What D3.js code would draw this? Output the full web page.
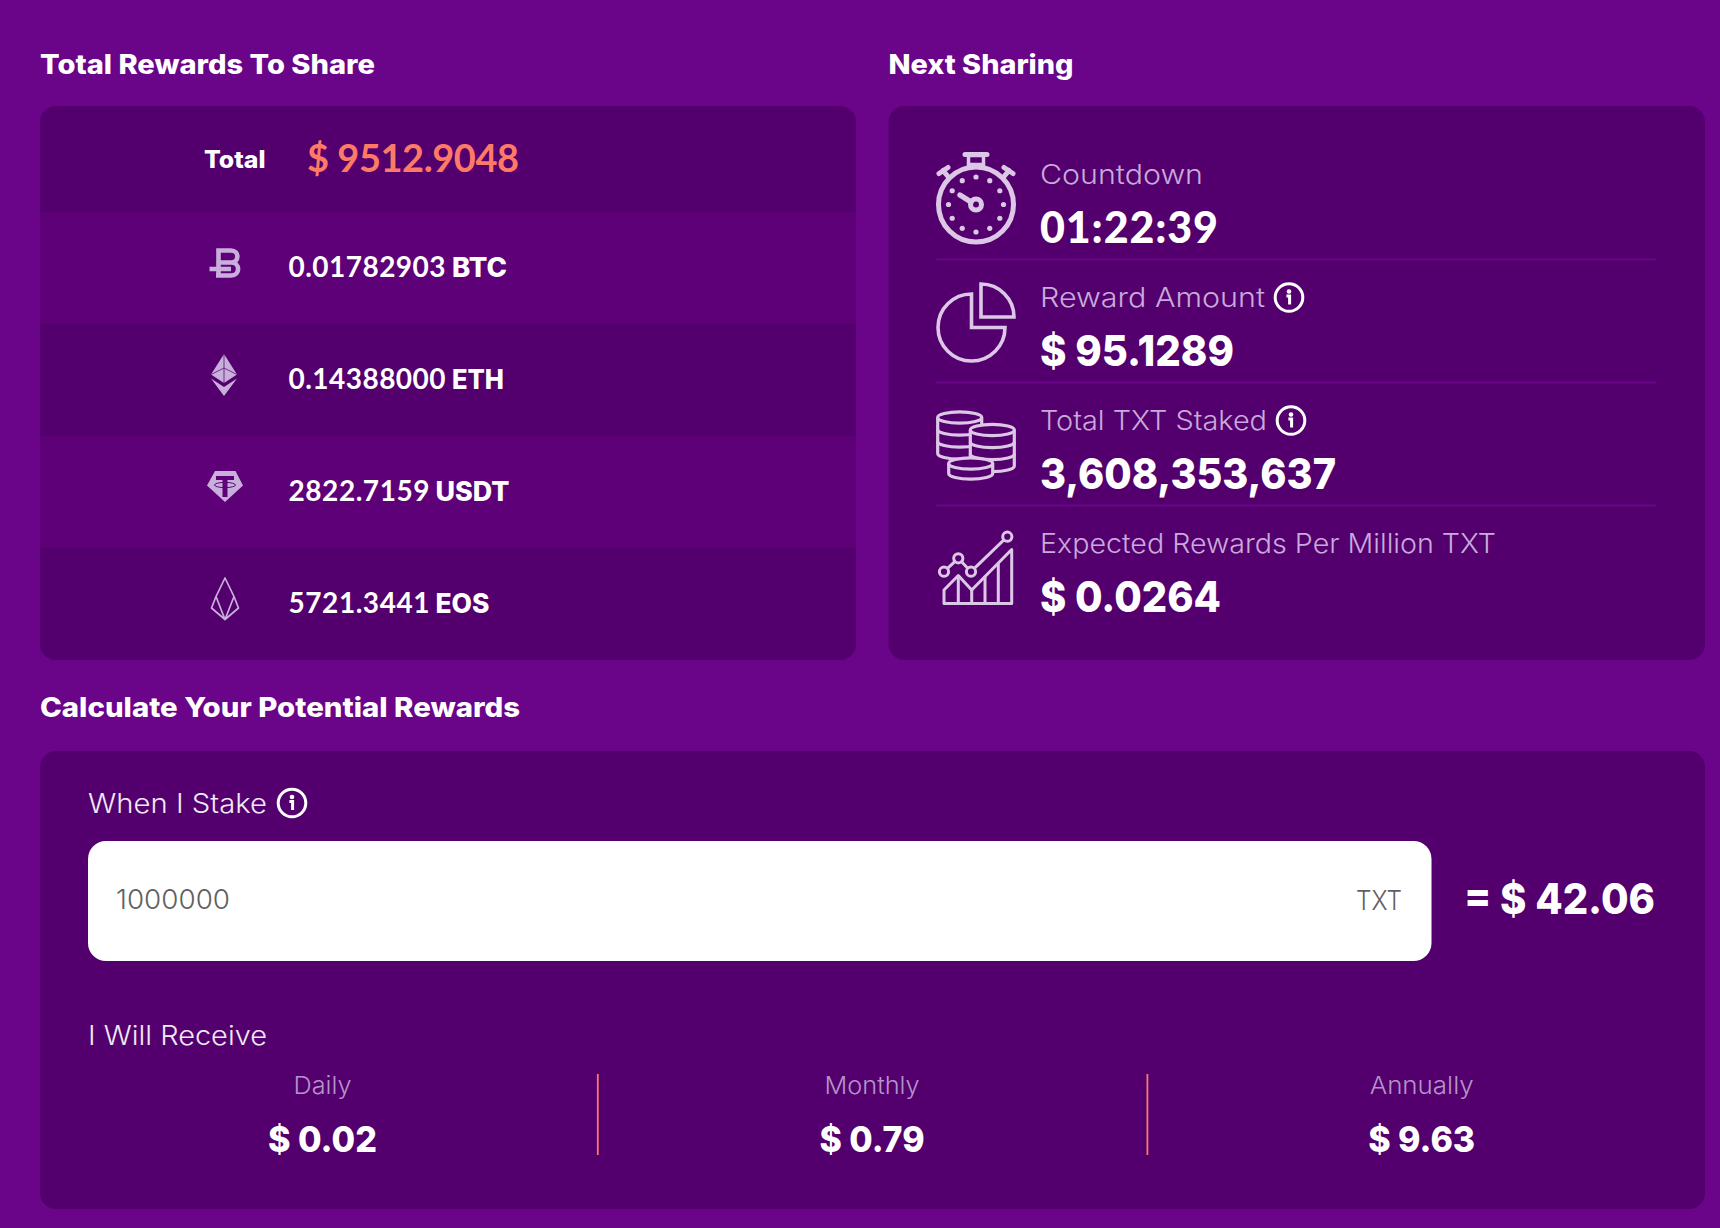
<!DOCTYPE html>
<html>
<head>
<meta charset="utf-8">
<script src="https://cdn.jsdelivr.net/npm/d3@7"></script>
<style>
  body { margin: 0; background: #6a0488; }
  svg { display: block; }
</style>
</head>
<body>
<svg id="board" width="1720" height="1228"></svg>
<script>
// values
var totalLabel = 'Total';
var totalValue = '$ 9512.9048';
var coinSymbols = ['BTC', 'ETH', 'USDT', 'EOS'];
var coinAmounts = ['0.01782903', '0.14388000', '2822.7159', '5721.3441'];
var statLabels = ['Countdown', 'Reward Amount', 'Total TXT Staked', 'Expected Rewards Per Million TXT'];
var statValues = ['01:22:39', '$ 95.1289', '3,608,353,637', '$ 0.0264'];
var statHasInfo = [false, true, true, false];
var periods = ['Daily', 'Monthly', 'Annually'];
var periodValues = ['$ 0.02', '$ 0.79', '$ 9.63'];
var stakeAmount = '1000000';
var stakeUnit = 'TXT';
var stakeWorth = '= $ 42.06';

// measured text widths, so the stand-in fonts run as long as the original
var amountWidths = [157, 157, 141, 141];
var symbolWidths = [55, 52, 74, 54];
var symbolLefts = [452, 452, 435.5, 435.5];
var statLabelWidths = [163, 225, 227, 456];
var statValueWidths = [178, 194, 296, 181];
var periodWidths = [58, 95, 104];
var periodValueWidths = [109, 105, 107];

var BG = '#6a0488';
var PANEL = '#53006e';
var ROW = '#5e0178';
var CORAL = '#ff7a66';
var MUTED = '#c8aadb';
var ICON = '#dcc8e6';
var COIN_ICON = '#c9b0dc';
var HEAD = 'Inter, sans-serif';
var BODY = 'Inter, sans-serif';
var DIGITS = 'Lato, sans-serif';

var svg = d3.select('#board');

function label(parent, x, y, str, size, weight, fill, width, family, anchor, adjust) {
  var t = parent.append('text')
    .attr('x', x)
    .attr('y', y)
    .attr('font-family', family || BODY)
    .attr('font-size', size)
    .attr('font-weight', weight)
    .attr('fill', fill)
    .attr('text-anchor', anchor || 'start')
    .text(str);
  if (width) {
    t.attr('textLength', width).attr('lengthAdjust', adjust || 'spacingAndGlyphs');
  }
  return t;
}

function infoIcon(parent, cx, cy) {
  var g = parent.append('g').attr('transform', 'translate(' + cx + ',' + cy + ')');
  g.append('circle').attr('r', 13.8).attr('fill', 'none').attr('stroke', '#fff').attr('stroke-width', 3);
  g.append('circle').attr('cy', -6).attr('r', 2.3).attr('fill', '#fff');
  g.append('path').attr('d', 'M-2.6,-1.4 H0.6 V7').attr('fill', 'none')
    .attr('stroke', '#fff').attr('stroke-width', 3);
}

function panel(x, y, w, h) {
  svg.append('rect').attr('x', x).attr('y', y).attr('width', w).attr('height', h)
    .attr('rx', 16).attr('fill', PANEL);
}

svg.append('rect').attr('width', 1720).attr('height', 1228).attr('fill', BG);

// ---- left panel ----
function rewardsPanel() {
  label(svg, 40, 74, 'Total Rewards To Share', 27, 800, '#fff', 335, HEAD);
  panel(40, 106, 816, 554);

  var rowY = d3.scaleBand().domain(coinSymbols).range([212, 660]);

  svg.append('defs').append('clipPath').attr('id', 'leftClip')
    .append('rect').attr('x', 40).attr('y', 106).attr('width', 816).attr('height', 554).attr('rx', 16);

  svg.append('g').attr('clip-path', 'url(#leftClip)')
    .selectAll('rect')
    .data(coinSymbols)
    .enter()
    .append('rect')
    .attr('x', 40)
    .attr('width', 816)
    .attr('y', function(d) { return rowY(d); })
    .attr('height', rowY.bandwidth())
    .attr('fill', function(d, i) { return i % 2 === 0 ? ROW : PANEL; });

  label(svg, 204, 168, totalLabel, 24, 800, '#fff', 61.5, HEAD);
  label(svg, 307, 172, totalValue, 38, 700, CORAL, 212, DIGITS, 'start', 'spacing');

  coinSymbols.forEach(function(sym, i) {
    var base = rowY(sym) + rowY.bandwidth() / 2 + 8.5;
    label(svg, 288.5, base, coinAmounts[i], 28, 700, '#fff', amountWidths[i], DIGITS, 'start', 'spacing');
    label(svg, symbolLefts[i], base, sym, 27, 800, '#fff', symbolWidths[i], HEAD);
  });

  btcIcon(); ethIcon(); usdtIcon(); eosIcon();
}

function btcIcon() {
  svg.append('path')
    .attr('d', 'M218.5,275.5 V250.5 H231 C239.5,250.5 239.5,262.5 231,262.5 H218.5 M231,262.5 C240.5,262.5 240.5,275.5 231,275.5 H216 M209.5,269 H231')
    .attr('fill', 'none').attr('stroke', COIN_ICON).attr('stroke-width', 4.6);
}

function ethIcon() {
  var g = svg.append('g');
  g.append('path').attr('d', 'M224,354 L237,374.5 L224,383 L211,374.5 Z').attr('fill', COIN_ICON);
  g.append('path').attr('d', 'M211,378.5 L224,387 L237,378.5 L224,396 Z').attr('fill', COIN_ICON);
  g.append('path').attr('d', 'M224,354 V383 M211,374.5 L224,368 L237,374.5').attr('fill', 'none')
    .attr('stroke', PANEL).attr('stroke-width', 1).attr('opacity', 0.75);
}

function usdtIcon() {
  var g = svg.append('g');
  g.append('path').attr('d', 'M215,471 H235.5 L243,485.5 L225,502 L207,485.5 Z').attr('fill', COIN_ICON);
  g.append('path').attr('d', 'M216,476 H234 V480 H227.5 V497 H222.5 V480 H216 Z').attr('fill', ROW);
  g.append('ellipse').attr('cx', 225).attr('cy', 485).attr('rx', 10.5).attr('ry', 2.6)
    .attr('fill', 'none').attr('stroke', ROW).attr('stroke-width', 1);
}

function eosIcon() {
  svg.append('path')
    .attr('d', 'M225,578 L234,596.5 L238.5,608 L225,619.5 L211.5,608 L216,596.5 Z M216,596.5 L225,619.5 L234,596.5')
    .attr('fill', 'none').attr('stroke', COIN_ICON).attr('stroke-width', 1.7).attr('stroke-linejoin', 'round');
}

// ---- right panel ----
function sharingPanel() {
  label(svg, 888.5, 74, 'Next Sharing', 27, 800, '#fff', 185, HEAD);
  panel(888.5, 106, 816.5, 554);

  var statY = d3.scaleBand().domain(statLabels).range([136, 628]);
  var rows = svg.append('g');

  rows.selectAll('line')
    .data(statLabels.slice(0, 3))
    .enter()
    .append('line')
    .attr('x1', 936)
    .attr('x2', 1656)
    .attr('y1', function(d) { return statY(d) + statY.bandwidth() + 0.5; })
    .attr('y2', function(d) { return statY(d) + statY.bandwidth() + 0.5; })
    .attr('stroke', BG)
    .attr('stroke-width', 1.8);

  statLabels.forEach(function(d, i) {
    var top = statY(d);
    label(rows, 1040, top + 48, d, 27, 300, MUTED, statLabelWidths[i]);
    if (i === 0) {
      label(rows, 1040, top + 106.5, statValues[i], 43, 900, '#fff', statValueWidths[i], DIGITS, 'start', 'spacing');
    } else {
      label(rows, 1040, top + 106.5, statValues[i], 43, 800, '#fff', statValueWidths[i], HEAD);
    }
    if (statHasInfo[i]) {
      infoIcon(rows, 1040 + statLabelWidths[i] + 24, top + 38.5);
    }
  });

  stopwatchIcon(); pieIcon(); coinsIcon(); growthIcon();
}

function stopwatchIcon() {
  var g = svg.append('g').attr('transform', 'translate(976,204.5)')
    .attr('fill', 'none').attr('stroke', ICON);
  g.append('circle').attr('r', 37.5).attr('stroke-width', 5);
  g.append('rect').attr('x', -7.5).attr('y', -49).attr('width', 15).attr('height', 9).attr('stroke-width', 3.5);
  g.append('line').attr('x1', -11).attr('x2', 11).attr('y1', -50).attr('y2', -50)
    .attr('stroke-width', 5).attr('stroke-linecap', 'round');
  g.append('path').attr('d', 'M-37,-31 L-28,-37 M-33,-34 L-28,-28 M37,-31 L28,-37 M33,-34 L28,-28')
    .attr('stroke-width', 5).attr('stroke-linecap', 'round');
  g.append('circle').attr('r', 5.5).attr('stroke-width', 5);
  g.append('line').attr('x1', -16).attr('y1', -9.5).attr('x2', -5).attr('y2', -2.5)
    .attr('stroke-width', 5.4).attr('stroke-linecap', 'round');
  g.selectAll('.tick')
    .data(d3.range(12))
    .enter()
    .append('circle')
    .attr('class', 'tick')
    .attr('cx', function(d) { return 27.5 * Math.sin(d * Math.PI / 6); })
    .attr('cy', function(d) { return -27.5 * Math.cos(d * Math.PI / 6); })
    .attr('r', 2.6)
    .attr('fill', ICON)
    .attr('stroke', 'none');
}

function pieIcon() {
  var g = svg.append('g').attr('fill', 'none').attr('stroke', ICON).attr('stroke-width', 3.6);
  g.append('path').attr('d', 'M971.5,294 A33.5,33.5 0 1 0 1005,327.5 H971.5 Z');
  g.append('path').attr('d', 'M981,284 A33,33 0 0 1 1014,317 H981 Z');
}

function coinStack(cx, cy, levels, step) {
  var rx = 22, ry = 5.6;
  var g = svg.append('g').attr('transform', 'translate(' + cx + ',' + cy + ')')
    .attr('fill', PANEL).attr('stroke', ICON).attr('stroke-width', 3.2);
  var h = levels * step;
  g.append('path').attr('d', 'M' + (-rx) + ',0 V' + h + ' A' + rx + ',' + ry + ' 0 0 0 ' + rx + ',' + h + ' V0');
  d3.range(1, levels).forEach(function(k) {
    g.append('path').attr('d', 'M' + (-rx) + ',' + (k * step) + ' A' + rx + ',' + ry + ' 0 0 0 ' + rx + ',' + (k * step))
      .attr('fill', 'none');
  });
  g.append('ellipse').attr('rx', rx).attr('ry', ry);
}

function coinsIcon() {
  coinStack(959.7, 417.5, 3, 12);
  coinStack(992.3, 430, 3, 12);
  coinStack(970.7, 463.5, 1, 10);
}

function growthIcon() {
  var g = svg.append('g').attr('fill', 'none').attr('stroke', ICON).attr('stroke-width', 3)
    .attr('stroke-linejoin', 'round');
  g.append('path').attr('d', 'M944,603.5 V590 L958.3,575.5 L971.7,590 L1011.7,549.5 V603.5 Z');
  g.append('path').attr('d', 'M958.3,575.5 V603.5 M971.7,590 V603.5 M985,576.5 V603.5 M998.3,563 V603.5');
  g.append('path').attr('d', 'M944,571.7 L958.3,558.3 L971,571.7 L1007.3,536.7');
  [[944, 571.7], [958.3, 558.3], [971, 571.7], [1007.3, 536.7]].forEach(function(p) {
    g.append('circle').attr('cx', p[0]).attr('cy', p[1]).attr('r', 4.6).attr('fill', PANEL);
  });
}

// ---- bottom panel ----
function calculatorPanel() {
  label(svg, 40, 717, 'Calculate Your Potential Rewards', 27, 800, '#fff', 480, HEAD);
  panel(40, 751, 1665, 458);

  label(svg, 88, 813, 'When I Stake', 27, 300, '#f2e8f7', 179);
  infoIcon(svg, 292, 803);

  svg.append('rect').attr('x', 88).attr('y', 841).attr('width', 1343.5).attr('height', 120)
    .attr('rx', 18).attr('fill', '#fff');
  label(svg, 116, 909, stakeAmount, 27, 300, '#606060', 114);
  label(svg, 1356, 910, stakeUnit, 27, 300, '#606060', 46);
  label(svg, 1464, 914, stakeWorth, 43, 800, '#fff', 191, HEAD);

  label(svg, 88, 1044.5, 'I Will Receive', 27, 300, '#f2e8f7', 179);

  var colX = d3.scalePoint().domain(periods).range([322.5, 1421.7]);

  svg.selectAll('.divider')
    .data(periods.slice(1))
    .enter()
    .append('line')
    .attr('class', 'divider')
    .attr('x1', function(d) { return colX(d) - colX.step() / 2 + 0.5; })
    .attr('x2', function(d) { return colX(d) - colX.step() / 2 + 0.5; })
    .attr('y1', 1074)
    .attr('y2', 1155)
    .attr('stroke', CORAL)
    .attr('stroke-width', 1.8);

  periods.forEach(function(p, i) {
    label(svg, colX(p), 1094, p, 24, 300, '#b593ca', periodWidths[i], BODY, 'middle');
    label(svg, colX(p), 1152, periodValues[i], 36, 800, '#fff', periodValueWidths[i], HEAD, 'middle');
  });
}

function init() {
  rewardsPanel();
  sharingPanel();
  calculatorPanel();
}

init();
</script>
</body>
</html>
